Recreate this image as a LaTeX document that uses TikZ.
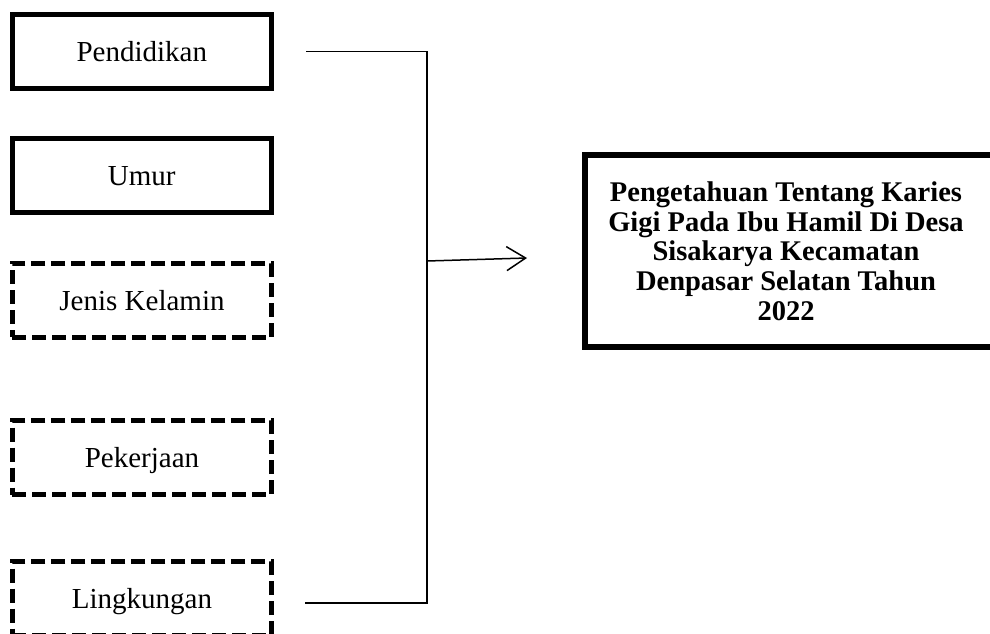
\documentclass[tikz,border=0pt]{standalone}
\usepackage{fontspec}
\setmainfont{Liberation Serif}
\usetikzlibrary{arrows.meta,calc}
\begin{document}
\begin{tikzpicture}[x=1pt,y=-1pt,
  varbox/.style={draw=black,line width=5pt,minimum width=259.5pt,minimum height=74pt,inner sep=0pt,
    font=\fontsize{29}{34}\selectfont,text height=20.3pt,text depth=0pt},
  solidbox/.style={varbox},
  dashbox/.style={varbox,dash pattern=on 14pt off 6pt},
  conn/.style={draw=black,line width=1.5pt},
  outbox/.style={draw=none,minimum width=402pt,minimum height=191.7pt,inner sep=0pt,
    align=center,font=\fontsize{28.5}{29.6}\selectfont\bfseries},
  outframe/.style={draw=black,line width=6pt}]
\useasboundingbox (0,0) rectangle (990,634);
\node[solidbox] (pend) at (141.75,51.25) {Pendidikan};
\node[solidbox] (umur) at (141.75,175.4) {Umur};
\node[dashbox] (jenis) at (142,300.35) {Jenis Kelamin};
\node[dashbox] (peker) at (142,457.5) {Pekerjaan};
\node[dashbox] (ling) at (142,598.5) {Lingkungan};
\node[outbox] (out) at (786,251.15) {Pengetahuan Tentang Karies\\Gigi Pada Ibu Hamil Di Desa\\Sisakarya Kecamatan\\Denpasar Selatan Tahun\\2022};
\draw[outframe] ($(out.north east)+(20,0)$) -- (out.north west) -- (out.south west) -- ($(out.south east)+(20,0)$);
\coordinate (jtop) at (427,51.5);
\coordinate (jbot) at (427,603);
\coordinate (jmid) at (427,261);
\coordinate (tip) at (527,258);
\draw[conn] ($(pend.east)+(32,0.25)$) -- (jtop) -- (jbot) -- ($(ling.east)+(31,4.5)$);
\draw[conn,-{Straight Barb[length=19pt,width=24pt]}] (jmid) -- (tip);
\end{tikzpicture}
\end{document}
